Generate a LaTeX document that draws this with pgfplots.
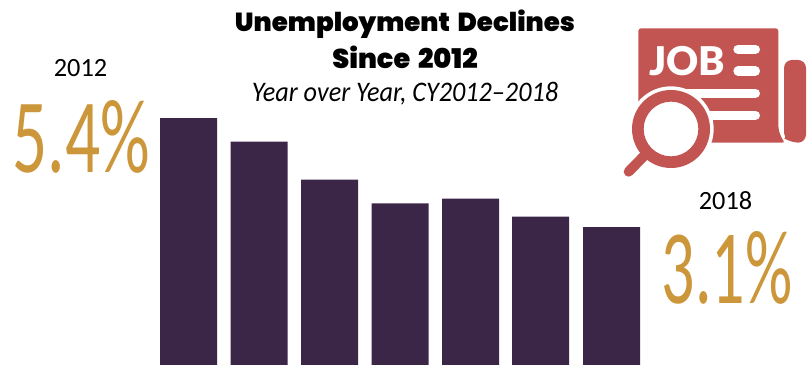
\documentclass[border=0pt]{standalone}
\usepackage{pgfplots}
\usepackage{fontspec}
\pgfplotsset{compat=1.18}
\setmainfont{Carlito}
\newfontfamily\heavy{Poppins Black}
\newfontfamily\jobfont{Lato Black}
\definecolor{barpurple}{HTML}{3B2648}
\definecolor{gold}{HTML}{CC963A}
\definecolor{iconred}{HTML}{C25552}
\begin{document}
\begin{tikzpicture}
\useasboundingbox (0,-0.75pt) rectangle (609pt,273.75pt);
\begin{axis}[
  at={(0pt,0pt)}, anchor=south west,
  scale only axis, width=609pt, height=273.75pt,
  hide axis,
  xmin=-2.674, xmax=8.844,
  ymin=0.19, ymax=7.89,
  ybar, bar width=42.75pt, bar shift=0pt,
]
\addplot[fill=barpurple, draw=none] coordinates {
  (0,5.4) (1,4.9) (2,4.1) (3,3.6) (4,3.7) (4.993,3.32) (6,3.1)
};
\end{axis}
% text and icon are laid out on a grid of 0.75pt cells, y running downwards
\begin{scope}[shift={(0,273.75pt)}, x=0.75pt, y=-0.75pt]
  \node[anchor=center] at (405,24) {\resizebox{255pt}{!}{\heavy Unemployment\hspace{0.12em} Declines}};
  \node[anchor=center] at (405,57) {\resizebox{109pt}{!}{\heavy Since\hspace{0.12em} 2012}};
  \node[anchor=center] at (405,94) {\resizebox{229.5pt}{14.5pt}{\itshape Year over Year, CY2012--2018}};
  \node[anchor=center] at (80.5,68.5) {\resizebox{40pt}{!}{2012}};
  \node[anchor=center] at (725.5,200.5) {\resizebox{40pt}{!}{2018}};
  \node[anchor=center, text=gold, inner sep=0pt] at (81.5,137) {\resizebox{103pt}{54pt}{5.4\%}};
  \node[anchor=center, text=gold, inner sep=0pt] at (727,268) {\resizebox{98pt}{54pt}{3.1\%}};

  % job-listing icon
  \begin{scope}[shift={(620,10)}, x=0.25pt, y=-0.25pt]
    \fill[iconred, rounded corners=2pt] (55,55) -- (475,55) -- (475,340)
      .. controls (475,365) and (485,385) .. (495,398) -- (55,398) -- cycle;
    \fill[iconred, rounded corners=6pt] (492,150) -- (558,150) -- (558,398) -- (512,398)
      .. controls (500,390) and (492,370) .. (492,345) -- cycle;
    \fill[white] (153,357) circle (128);
    \draw[white, line width=7pt, line cap=round] (354,118) -- (406,118);
    \draw[white, line width=7pt, line cap=round] (354,183) -- (406,183);
    \draw[white, line width=7pt, line cap=round] (190,250) -- (406,250);
    \draw[white, line width=7pt, line cap=round] (270,316) -- (406,316);
    \node[text=white, anchor=center] at (201,152) {\resizebox{57pt}{!}{\jobfont JOB}};
    \fill[iconred, even odd rule] (153,357) circle (117) (153,357) circle (82);
    \draw[iconred, line width=7.5pt, line cap=round] (70,440) -- (26,485);
  \end{scope}
\end{scope}
\end{tikzpicture}
\end{document}
